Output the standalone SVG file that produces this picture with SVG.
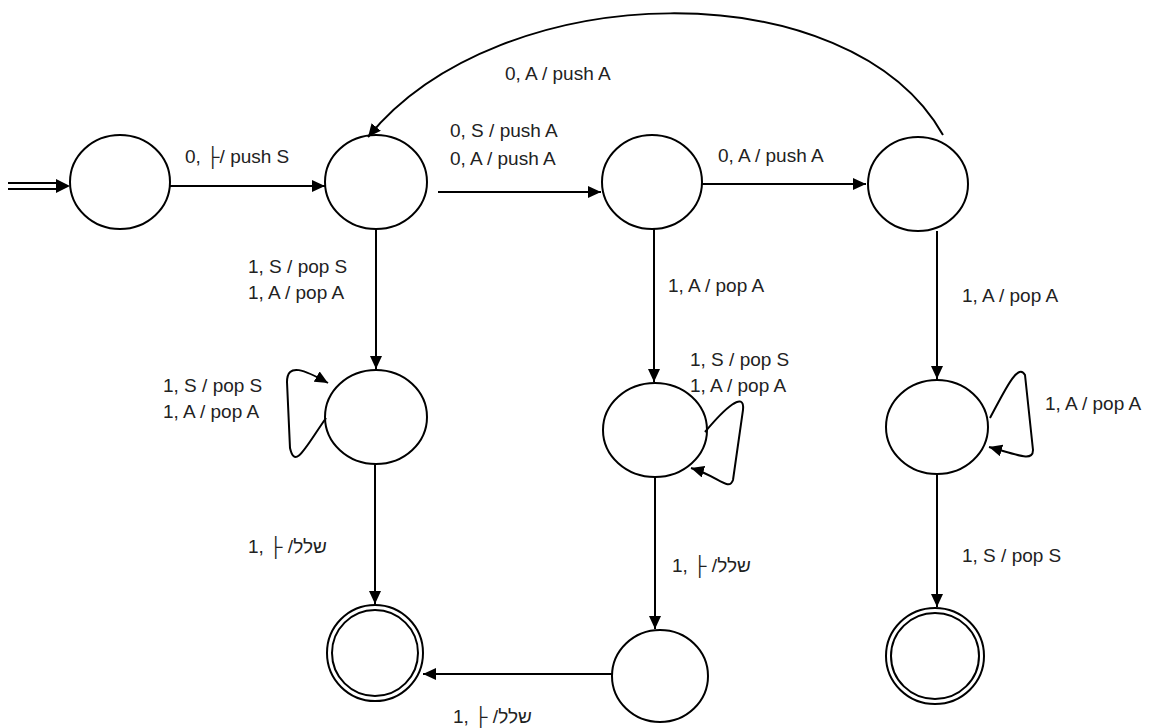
<svg xmlns="http://www.w3.org/2000/svg" width="1159" height="728" viewBox="0 0 1159 728">
<style>
.st{fill:none;stroke:#000;stroke-width:2}
.ed{fill:none;stroke:#000;stroke-width:2;marker-end:url(#ah)}
.lb{font-family:"Liberation Sans","DejaVu Sans",sans-serif;font-size:19px;fill:#222}
.he{direction:ltr;unicode-bidi:bidi-override}
</style>
<defs>
<marker id="ah" markerUnits="userSpaceOnUse" markerWidth="14" markerHeight="12" refX="13" refY="6" orient="auto">
<path d="M0,0 L13,6 L0,12 z" fill="#000"/>
</marker>
</defs>
<rect width="1159" height="728" fill="#fff"/>
<g id="q0"><ellipse class="st" cx="120" cy="182" rx="50" ry="47"/></g>
<g id="q1"><ellipse class="st" cx="376" cy="182" rx="51" ry="47"/></g>
<g id="q2"><ellipse class="st" cx="652" cy="182" rx="50" ry="47"/></g>
<g id="q3"><ellipse class="st" cx="918" cy="184" rx="50" ry="47"/></g>
<g id="q4"><ellipse class="st" cx="376" cy="417" rx="51" ry="47"/></g>
<g id="q5"><ellipse class="st" cx="655" cy="430" rx="52" ry="47"/></g>
<g id="q6"><ellipse class="st" cx="937" cy="427" rx="51" ry="47"/></g>
<g id="q7"><ellipse class="st" cx="375" cy="653" rx="48" ry="48"/><ellipse class="st" cx="375" cy="653" rx="43" ry="43"/></g>
<g id="q8"><ellipse class="st" cx="660" cy="676" rx="48" ry="46"/></g>
<g id="q9"><ellipse class="st" cx="935" cy="656" rx="49" ry="48"/><ellipse class="st" cx="935" cy="656" rx="44" ry="43"/></g>
<g id="connectors">
<line class="st" x1="8" y1="183" x2="58" y2="183"/>
<line class="st" x1="8" y1="189" x2="58" y2="189"/>
<path d="M56,179 L70,186 L56,193 z" fill="#000"/>
<path class="ed" d="M170,186 L325,186"/>
<path class="ed" d="M438,192 L601,192"/>
<path class="ed" d="M702,184 L866,184"/>
<path class="ed" d="M943,135 C850,-30 500,-25 368,137"/>
<path class="ed" d="M376,229 L376,369"/>
<path class="ed" d="M654,229 L654,382"/>
<path class="ed" d="M937,231 L937,379"/>
<path class="ed" d="M375,464 L375,604"/>
<path class="ed" d="M655,477 L655,629"/>
<path class="ed" d="M937,474 L937,607"/>
<path class="ed" d="M612,674 L423,674"/>
<path class="ed" d="M326,418 C305,448 295,470 290,448 L287,382 C287,362 305,370 328,383"/>
<path class="ed" d="M705,432 C725,408 745,390 743,410 L733,480 C729,492 718,476 691,468"/>
<path class="ed" d="M990,418 C1005,390 1018,362 1025,375 L1033,450 C1033,462 1018,455 989,447"/>
</g>
<g id="labels" direction="ltr">
<text class="lb" x="185" y="163">0, ├/ push S</text>
<text class="lb" x="450" y="137">0, S / push A</text>
<text class="lb" x="450" y="165">0, A / push A</text>
<text class="lb" x="718" y="162">0, A / push A</text>
<text class="lb" x="505" y="80">0, A / push A</text>
<text class="lb" x="248" y="273">1, S / pop S</text>
<text class="lb" x="248" y="299">1, A / pop A</text>
<text class="lb" x="668" y="292">1, A / pop A</text>
<text class="lb" x="962" y="302">1, A / pop A</text>
<text class="lb" x="690" y="366">1, S / pop S</text>
<text class="lb" x="690" y="392">1, A / pop A</text>
<text class="lb" x="163" y="392">1, S / pop S</text>
<text class="lb" x="163" y="418">1, A / pop A</text>
<text class="lb" x="1045" y="410">1, A / pop A</text>
<text class="lb he" x="248" y="553">1, ├ /ללש</text>
<text class="lb he" x="672" y="572">1, ├ /ללש</text>
<text class="lb" x="962" y="562">1, S / pop S</text>
<text class="lb he" x="453" y="723">1, ├ /ללש</text>
</g>
</svg>
